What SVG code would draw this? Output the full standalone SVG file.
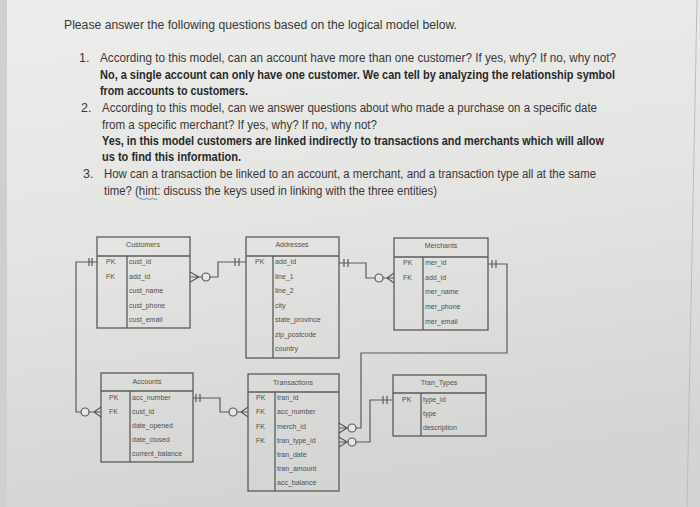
<svg xmlns="http://www.w3.org/2000/svg" width="700" height="507" viewBox="0 0 700 507">
<defs>
<linearGradient id="bg" x1="0" y1="0" x2="0.2" y2="1">
<stop offset="0" stop-color="#ededeb"/>
<stop offset="0.5" stop-color="#e4e4e2"/>
<stop offset="1" stop-color="#d4d4d2"/>
</linearGradient>
</defs>
<style>
.q{font-family:"Liberation Sans",Arial,sans-serif;font-size:12.5px;fill:#383838}
.b{font-weight:bold;fill:#2a2a2a}
.t{font-family:"Liberation Sans",Arial,sans-serif;font-size:7px;fill:#505050}
.h{text-anchor:middle}
.box{fill:none;stroke:#5a5a5a;stroke-width:1.3}
.c{fill:none;stroke:#5a5a5a;stroke-width:1.2}
.o{fill:#e6e6e4;stroke:#5a5a5a;stroke-width:1.2}
</style>
<rect width="700" height="507" fill="url(#bg)"/>
<rect x="0" y="0" width="7" height="507" fill="#cfcfcd"/>
<line x1="697" y1="0" x2="687" y2="507" stroke="#bdbdbb" stroke-width="1"/>

<g id="questions">
<text class="q" x="64" y="29" textLength="393" lengthAdjust="spacingAndGlyphs">Please answer the following questions based on the logical model below.</text>
<text class="q" x="79" y="62">1.</text>
<text class="q" x="100" y="62" textLength="516" lengthAdjust="spacingAndGlyphs">According to this model, can an account have more than one customer?  If yes, why? If no, why not?</text>
<text class="q b" x="100" y="79" textLength="515" lengthAdjust="spacingAndGlyphs">No, a single account can only have one customer. We can tell by analyzing the relationship symbol</text>
<text class="q b" x="100" y="95" textLength="148" lengthAdjust="spacingAndGlyphs">from accounts to customers.</text>
<text class="q" x="81" y="112">2.</text>
<text class="q" x="102" y="112" textLength="495" lengthAdjust="spacingAndGlyphs">According to this model, can we answer questions about who made a purchase on a specific date</text>
<text class="q" x="102" y="129" textLength="275" lengthAdjust="spacingAndGlyphs">from a specific merchant?  If yes, why? If no, why not?</text>
<text class="q b" x="102" y="145" textLength="502" lengthAdjust="spacingAndGlyphs">Yes, in this model customers are linked indirectly to transactions and merchants which will allow</text>
<text class="q b" x="102" y="161" textLength="139" lengthAdjust="spacingAndGlyphs">us to find this information.</text>
<text class="q" x="83" y="178">3.</text>
<text class="q" x="104" y="178" textLength="492" lengthAdjust="spacingAndGlyphs">How can a transaction be linked to an account, a merchant, and a transaction type all at the same</text>
<text class="q" x="104" y="195" textLength="333" lengthAdjust="spacingAndGlyphs">time? (hint: discuss the keys used in linking with the three entities)</text>
<path d="M139 199 q1.5 -1.5 3 0 t3 0 t3 0 t3 0 t3 0 t3 0" fill="none" stroke="#6a7fd0" stroke-width="1"/>
</g>

<g id="customers">
<rect class="box" x="97" y="237" width="93" height="91"/>
<line class="box" x1="97" y1="256" x2="190" y2="256"/>
<line class="box" x1="127" y1="256" x2="127" y2="328"/>
<text class="t h" x="143" y="247">Customers</text>
<text class="t" x="106" y="264">PK</text><text class="t" x="129" y="264">cust_id</text>
<text class="t" x="106" y="279">FK</text><text class="t" x="129" y="279">add_id</text>
<text class="t" x="129" y="293">cust_name</text>
<text class="t" x="129" y="308">cust_phone</text>
<text class="t" x="129" y="322">cust_email</text>
</g>

<g id="addresses">
<rect class="box" x="246" y="237" width="93" height="121"/>
<line class="box" x1="246" y1="256" x2="339" y2="256"/>
<line class="box" x1="273" y1="256" x2="273" y2="358"/>
<text class="t h" x="292" y="247">Addresses</text>
<text class="t" x="255" y="264">PK</text><text class="t" x="275" y="264">add_id</text>
<text class="t" x="275" y="279">line_1</text>
<text class="t" x="275" y="293">line_2</text>
<text class="t" x="275" y="308">city</text>
<text class="t" x="275" y="322">state_province</text>
<text class="t" x="275" y="337">zip_postcode</text>
<text class="t" x="275" y="351">country</text>
</g>

<g id="merchants">
<rect class="box" x="394" y="238" width="94" height="92"/>
<line class="box" x1="394" y1="257" x2="488" y2="257"/>
<line class="box" x1="423" y1="257" x2="423" y2="330"/>
<text class="t h" x="441" y="248">Merchants</text>
<text class="t" x="403" y="265">PK</text><text class="t" x="425" y="265">mer_id</text>
<text class="t" x="403" y="280">FK</text><text class="t" x="425" y="280">add_id</text>
<text class="t" x="425" y="294">mer_name</text>
<text class="t" x="425" y="309">mer_phone</text>
<text class="t" x="425" y="324">mer_email</text>
</g>

<g id="accounts">
<rect class="box" x="101" y="373" width="92" height="89"/>
<line class="box" x1="101" y1="391" x2="193" y2="391"/>
<line class="box" x1="130" y1="391" x2="130" y2="462"/>
<text class="t h" x="147" y="384">Accounts</text>
<text class="t" x="109" y="400">PK</text><text class="t" x="132" y="400">acc_number</text>
<text class="t" x="109" y="414">FK</text><text class="t" x="132" y="414">cust_id</text>
<text class="t" x="132" y="428">date_opened</text>
<text class="t" x="132" y="442">date_closed</text>
<text class="t" x="132" y="456">current_balance</text>
</g>

<g id="transactions">
<rect class="box" x="248" y="374" width="91" height="117"/>
<line class="box" x1="248" y1="392" x2="339" y2="392"/>
<line class="box" x1="275" y1="392" x2="275" y2="491"/>
<text class="t h" x="293" y="385">Transactions</text>
<text class="t" x="256" y="400">PK</text><text class="t" x="277" y="400">tran_id</text>
<text class="t" x="256" y="414">FK</text><text class="t" x="277" y="414">acc_number</text>
<text class="t" x="256" y="429">FK</text><text class="t" x="277" y="429">merch_id</text>
<text class="t" x="256" y="443">FK</text><text class="t" x="277" y="443">tran_type_id</text>
<text class="t" x="277" y="457">tran_date</text>
<text class="t" x="277" y="471">tran_amount</text>
<text class="t" x="277" y="485">acc_balance</text>
</g>

<g id="tran_types">
<rect class="box" x="393" y="375" width="93" height="61"/>
<line class="box" x1="393" y1="393" x2="486" y2="393"/>
<line class="box" x1="421" y1="393" x2="421" y2="436"/>
<text class="t h" x="439" y="385">Tran_Types</text>
<text class="t" x="402" y="402">PK</text><text class="t" x="423" y="402">type_id</text>
<text class="t" x="423" y="416">type</text>
<text class="t" x="423" y="430">description</text>
</g>

<g id="connectors">
<path class="c" d="M97 262 H76 V412 H81"/>
<path class="c" d="M89 258 V266 M92 258 V266"/>
<circle class="o" cx="85" cy="412" r="4"/>
<path class="c" d="M89 412 H101 M94 412 L101 407 M94 412 L101 417"/>
<path class="c" d="M190 272 L199 277 L190 282 M190 277 H202"/>
<circle class="o" cx="206" cy="277" r="4"/>
<path class="c" d="M210 277 H218 V262 H246"/>
<path class="c" d="M235 258 V266 M239 258 V266"/>
<path class="c" d="M339 263 H366 V278 H375"/>
<path class="c" d="M344 259 V267 M348 259 V267"/>
<circle class="o" cx="379" cy="278" r="4"/>
<path class="c" d="M383 278 H394 M387 278 L394 273 M387 278 L394 283"/>
<path class="c" d="M488 264 H507 V353 H361 V428 H356"/>
<path class="c" d="M492 260 V268 M496 260 V268"/>
<circle class="o" cx="352" cy="428" r="4"/>
<path class="c" d="M339 423 L347 428 L339 433 M339 428 H348"/>
<path class="c" d="M393 400 H370 V442 H356"/>
<path class="c" d="M383 396 V404 M387 396 V404"/>
<circle class="o" cx="352" cy="442" r="4"/>
<path class="c" d="M339 437 L347 442 L339 447 M339 442 H348"/>
<path class="c" d="M193 398 H220 V412 H229"/>
<path class="c" d="M196 394 V402 M200 394 V402"/>
<circle class="o" cx="233" cy="412" r="4"/>
<path class="c" d="M237 412 H248 M241 412 L248 407 M241 412 L248 417"/>
</g>
</svg>
